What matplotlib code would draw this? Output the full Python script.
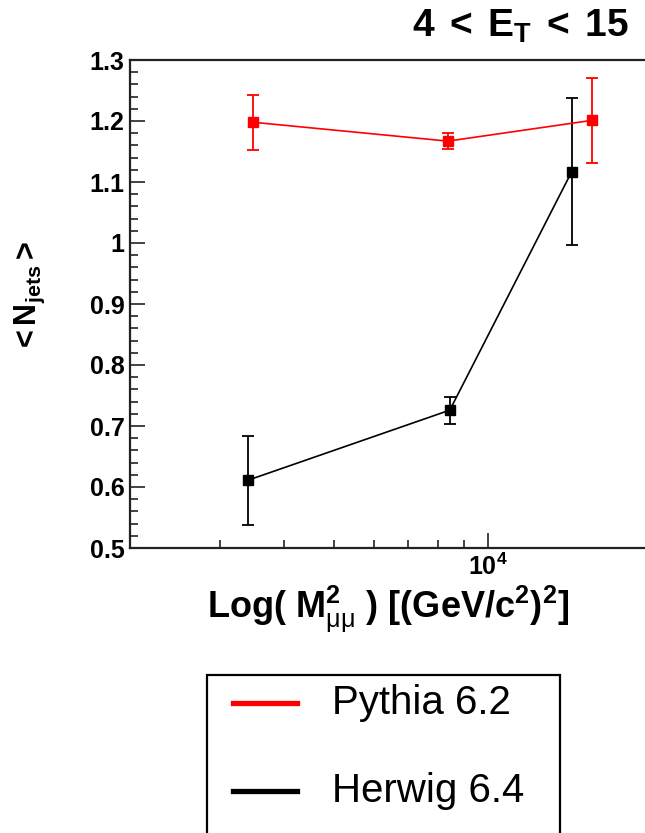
import numpy as np
import matplotlib
matplotlib.use("Agg")
import matplotlib.pyplot as plt
from matplotlib.ticker import FixedLocator, MultipleLocator, NullFormatter
from matplotlib.lines import Line2D
from matplotlib.patches import Rectangle

plt.rcParams['font.family'] = ['Liberation Sans', 'DejaVu Sans']
plt.rcParams['mathtext.fontset'] = 'custom'
plt.rcParams['mathtext.rm'] = 'Liberation Sans'
plt.rcParams['mathtext.bf'] = 'Liberation Sans:bold'
plt.rcParams['mathtext.it'] = 'Liberation Sans:italic'

# data (x = M^2 in (GeV/c^2)^2)
series_names = ['Pythia 6.2', 'Herwig 6.4']
series_colors = ['red', 'black']
pythia_x = [3475, 8355, 15960]
pythia_y = [1.198, 1.167, 1.201]
pythia_err = [0.045, 0.013, 0.07]
herwig_x = [3397, 8430, 14590]
herwig_y = [0.611, 0.726, 1.117]
herwig_err = [0.073, 0.022, 0.12]

ytick_vals = [0.5, 0.6, 0.7, 0.8, 0.9, 1.0, 1.1, 1.2, 1.3]
ytick_labels = ['0.5', '0.6', '0.7', '0.8', '0.9', '1', '1.1', '1.2', '1.3']
xminor_vals = [3000, 4000, 5000, 6000, 7000, 8000, 9000]

W, H = 645, 833
fig = plt.figure(figsize=(W / 100, H / 100), dpi=100)

def fx(px):
    return px / W

def fy(py):
    return 1 - py / H

ax = fig.add_axes([fx(130), fy(548), 602 / W, 488 / H])

for xs, ys, es, c in [(pythia_x, pythia_y, pythia_err, series_colors[0]),
                      (herwig_x, herwig_y, herwig_err, series_colors[1])]:
    ax.errorbar(xs, ys, yerr=es, color=c, marker='s', markersize=7,
                lw=1.2, elinewidth=1.3, capsize=4, capthick=1.3)

ax.set_xscale('log')
ax.set_xlim(2000, 30000)
ax.set_ylim(0.5, 1.3)

ax.set_xticks([1e4])
ax.set_xticklabels([r'$\mathbf{10^{4}}$'])
ax.xaxis.set_minor_locator(FixedLocator(xminor_vals))
ax.xaxis.set_minor_formatter(NullFormatter())

ax.set_yticks(ytick_vals)
ax.set_yticklabels(ytick_labels)
ax.yaxis.set_minor_locator(MultipleLocator(0.02))

for lab in ax.get_yticklabels():
    lab.set_fontweight('bold')
ax.tick_params(axis='both', which='major', direction='in', length=11, width=1.2,
               labelsize=18, color='#222222')
ax.tick_params(axis='both', which='minor', direction='in', length=5.5, width=1.2,
               color='#222222')
ax.tick_params(axis='y', pad=4)
ax.tick_params(axis='x', pad=4)
ax.tick_params(top=False, right=False, which='both')

for side in ['left', 'bottom', 'top']:
    ax.spines[side].set_linewidth(1.6)
    ax.spines[side].set_color('#222222')
ax.spines['right'].set_visible(False)

# title / axis labels
fig.text(fx(521), fy(37), r'$\mathbf{4\;<\;E_{T}\;<\;15}$', fontsize=28,
         ha='center', va='baseline')
fig.text(fx(388), fy(618), r'$\mathbf{Log(\ M^{2}_{\mathrm{\mu\mu}}\ )\ [(GeV/c^{2})^{2}]}$',
         fontsize=26, ha='center', va='baseline')
fig.text(fx(30), fy(297), r'$\mathbf{{<}N_{jets}{>}}$', fontsize=22,
         rotation=90, ha='center', va='center')

# legend box (bottom runs off the figure)
fig.add_artist(Rectangle((fx(207), fy(860)), (560 - 207) / W, (860 - 675) / H,
                         transform=fig.transFigure, fill=False, ec='black', lw=1.6))
for i, (name, col) in enumerate(zip(series_names, series_colors)):
    yy = fy(703 + 88 * i)
    fig.add_artist(Line2D([fx(233), fx(297)], [yy, yy], transform=fig.transFigure,
                          color=col, lw=3.8))
    fig.text(fx(332), yy, name, fontsize=29, ha='left', va='center')

fig.savefig('out.png', dpi=100)
